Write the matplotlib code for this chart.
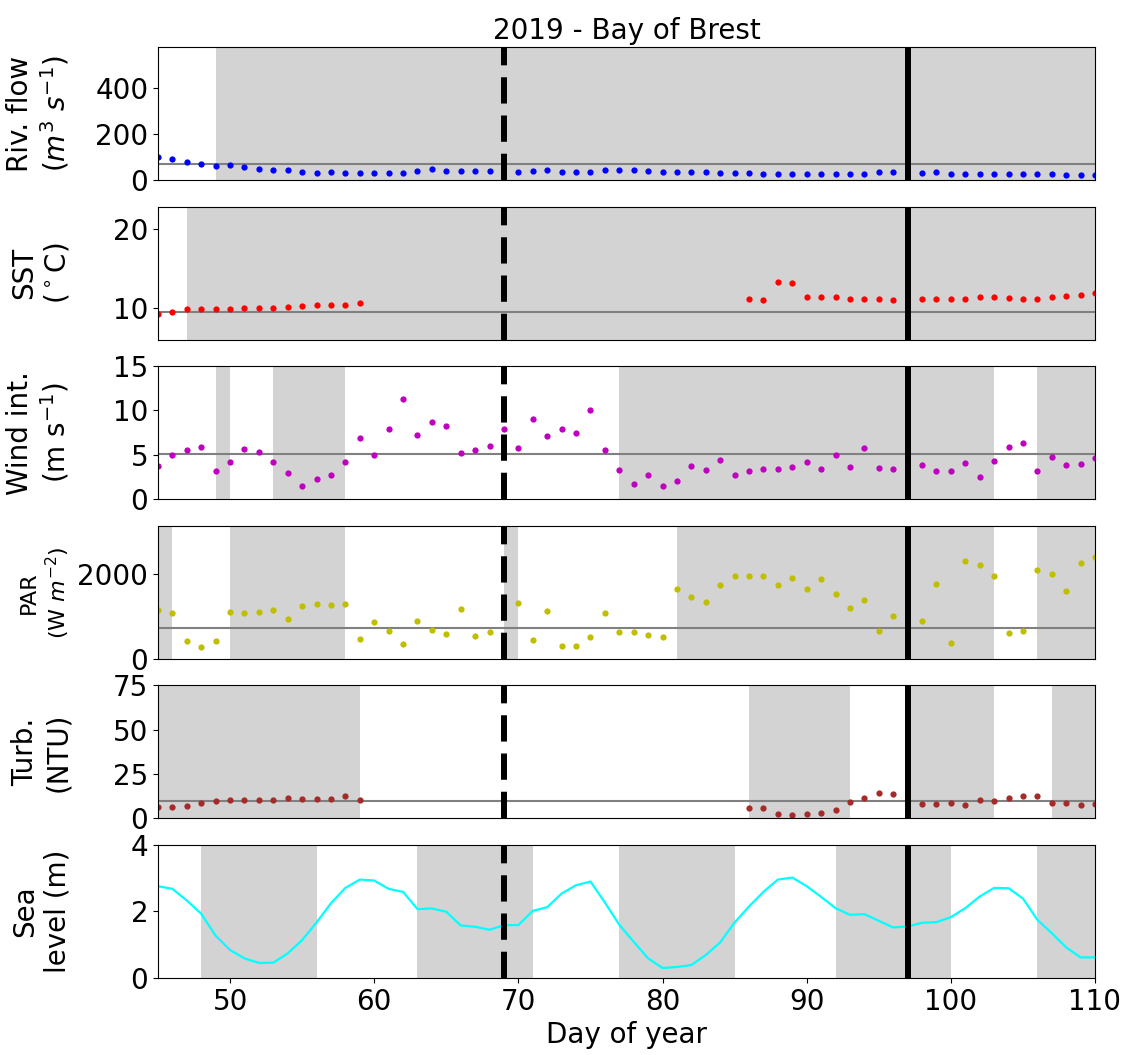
import numpy as np
import matplotlib
matplotlib.use('Agg')
import matplotlib.pyplot as plt

nan = np.nan
days = np.arange(45, 111)

river = [101, 91, 78, 70, 62, 65, 55, 49, 45, 42, 36, 32, 33, 32, 30, 30, 32, 30, 40, 46,
         40, 39, 37, 37, nan, 36, 37, 45, 36, 36, 36, 42, 43, 42, 41, 36, 36, 33, 33, 30,
         30, 29, 27, 27, 26, 26, 25, 25, 25, 27, 34, 33, nan, 29, 34, 28, 27, 25, 25, 25,
         25, 26, 25, 22, 21, 21]

sst = [9.3, 9.5, 9.9, 9.9, 9.9, 9.9, 9.95, 10.0, 10.05, 10.2, 10.3, 10.4, 10.4, 10.4, 10.6] + \
      [nan] * 26 + \
      [11.1, 11.0, 13.3, 13.2, 11.4, 11.4, 11.35, 11.2, 11.1, 11.1, 11.05, nan,
       11.1, 11.2, 11.2, 11.15, 11.35, 11.4, 11.25, 11.1, 11.2, 11.4, 11.5, 11.7, 11.9]

wind = [3.75, 5.03, 5.5, 5.86, 3.15, 4.17, 5.67, 5.3, 4.24, 2.97, 1.54, 2.25, 2.74, 4.17,
        6.87, 5.03, 7.96, 11.27, 7.25, 8.75, 8.26, 5.26, 5.56, 5.97, 7.93, 5.75, 9.05, 7.17,
        7.89, 7.47, 10.07, 5.56, 3.27, 1.76, 2.7, 1.54, 2.06, 3.75, 3.27, 4.43, 2.74, 3.19,
        3.45, 3.38, 3.68, 4.24, 3.45, 4.96, 3.68, 5.75, 3.57, 3.45, nan, 3.87, 3.19, 3.19,
        4.06, 2.48, 4.28, 5.86, 6.38, 3.19, 4.77, 3.87, 3.98, 4.66]

par = [1144, 1082, 423, 282, 423, 1106, 1066, 1090, 1153, 925, 1238, 1285, 1270, 1294,
       470, 870, 659, 337, 885, 674, 580, 1160, 533, 619, nan, 1309, 447, 1113, 306, 306,
       509, 1082, 627, 619, 549, 502, 1631, 1458, 1333, 1741, 1937, 1945, 1953, 1741, 1906,
       1631, 1874, 1513, 1200, 1372, 651, 1012, nan, 885, 1757, 360, 2290, 2196, 1945, 611,
       643, 2094, 2000, 1592, 2235, 2376]

turb = [6.2, 6.2, 7.2, 8.7, 10.0, 10.2, 10.4, 10.4, 10.6, 11.3, 10.9, 11.1, 11.1, 12.4, 10.4] + \
       [nan] * 26 + \
       [6.05, 5.9, 2.5, 1.9, 2.7, 2.9, 4.7, 9.1, 11.5, 14.1, 13.6, nan,
        7.9, 8.1, 8.9, 7.4, 10.4, 9.9, 11.3, 12.4, 12.4, 8.5, 8.5, 7.8, 8.1]

sea = [2.76, 2.68, 2.33, 1.93, 1.27, 0.84, 0.59, 0.45, 0.46, 0.74, 1.14, 1.67, 2.25, 2.71,
       2.96, 2.93, 2.68, 2.59, 2.07, 2.09, 1.99, 1.58, 1.54, 1.45, 1.59, 1.59, 2.02, 2.13,
       2.54, 2.79, 2.9, 2.27, 1.6, 1.09, 0.59, 0.3, 0.33, 0.39, 0.69, 1.07, 1.67, 2.15,
       2.59, 2.96, 3.02, 2.76, 2.44, 2.1, 1.9, 1.92, 1.72, 1.52, 1.55, 1.66, 1.68, 1.83,
       2.1, 2.45, 2.71, 2.7, 2.39, 1.75, 1.35, 0.92, 0.62, 0.62]

# mean lines
means = [68, 9.5, 5.05, 713, 10.0, None]

# shaded periods (day start, day end)
shades = [
    [(49, 111)],
    [(47, 111)],
    [(49, 50), (53, 58), (77, 103), (106, 111)],
    [(44, 46), (50, 58), (69, 70), (81, 103), (106, 111)],
    [(44, 59), (86, 93), (97, 103), (107, 111)],
    [(48, 56), (63, 71), (77, 85), (92, 100), (106, 111)],
]

series = [river, sst, wind, par, turb, sea]
colors = ['b', 'r', 'm', 'y', 'brown', 'cyan']
labels = ['Riv. flow\n($m^3$ $s^{-1}$)', 'SST\n($^\\circ$C)', 'Wind int.\n(m s$^{-1}$)',
          'PAR\n(W $m^{-2}$)', 'Turb.\n(NTU)', 'Sea\nlevel (m)']
ylims = [(0, 578), (6, 22.9), (0, 15), (0, 3120), (0, 75), (0, 4)]
yticks = [[0, 200, 400], [10, 20], [0, 5, 10, 15], [0, 2000], [0, 25, 50, 75], [0, 2, 4]]

fig, axes = plt.subplots(6, 1, figsize=(11.27, 10.55), dpi=100)
fig.subplots_adjust(left=0.1402, right=0.9716, top=0.9555, bottom=0.073, hspace=0.2)

for i, ax in enumerate(axes):
    for s0, s1 in shades[i]:
        ax.axvspan(s0, s1, color='lightgrey', lw=0, zorder=0)
    if means[i] is not None:
        ax.axhline(means[i], color='grey', lw=1.5, zorder=1)
    if i == 5:
        ax.plot(days, series[i], color=colors[i], lw=1.6, zorder=2)
    else:
        ax.plot(days, series[i], 'o', color=colors[i], ms=4.5, mew=0, zorder=2)
    ax.axvline(69, color='k', lw=4.3, ls=(0, (4.4, 2.0)), zorder=3)
    ax.axvline(97, color='k', lw=4.3, zorder=3)
    ax.set_xlim(45, 110)
    ax.set_ylim(*ylims[i])
    ax.set_yticks(yticks[i])
    ax.tick_params(labelsize=20)
    ax.set_ylabel(labels[i], fontsize=16 if i == 3 else 20)
    if i < 5:
        ax.set_xticks([])
    else:
        ax.set_xticks([50, 60, 70, 80, 90, 100, 110])
        ax.set_xlabel('Day of year', fontsize=20)

axes[0].set_title('2019 - Bay of Brest', fontsize=20)
fig.align_ylabels(axes)

plt.savefig('out.png', dpi=100)
